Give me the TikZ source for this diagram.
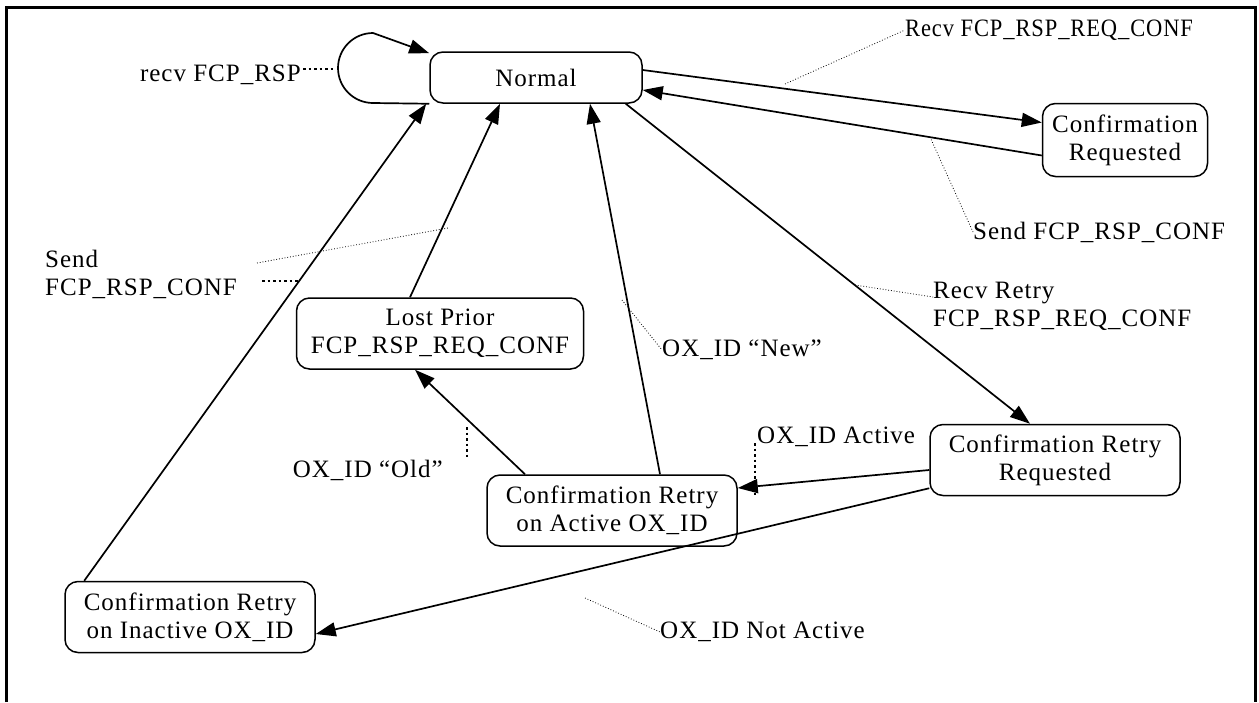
\documentclass[tikz,border=0pt]{standalone}
\usepackage{fontspec}
\setmainfont{Liberation Serif}[LetterSpace=4]
\usetikzlibrary{arrows.meta,calc}
\begin{document}
\begin{tikzpicture}[x=1pt,y=-1pt,
  every node/.style={font=\fontsize{25}{28}\selectfont, inner sep=0pt},
  state/.style={draw, line width=1.5pt, rounded corners=13pt, align=center},
  tr/.style={line width=1.7pt, -{Triangle[length=20pt,width=14pt]}},
  lead/.style={line width=0.8pt, dotted},
  leadthick/.style={line width=1.8pt, dash pattern=on 2.5pt off 3pt},
  lbl/.style={align=left}]
\useasboundingbox (0,0) rectangle (1259,702);
\draw[line width=3pt] (6,702) -- (6,7) -- (1255,7) -- (1255,702);

% states
\node[state, minimum width=212pt, minimum height=51pt] (normal) at (536,77.5) {Normal};
\node[state, minimum width=165pt, minimum height=73pt] (creq) at (1125,140) {Confirmation\\Requested};
\node[state, minimum width=287pt, minimum height=71pt] (lost) at (440,333.5) {Lost Prior\\FCP\_RSP\_REQ\_CONF};
\node[state, minimum width=250pt, minimum height=71pt] (cra) at (612,510.5) {Confirmation Retry\\on Active OX\_ID};
\node[state, minimum width=250pt, minimum height=71pt] (crr) at (1055,460) {Confirmation Retry\\Requested};
\node[state, minimum width=250pt, minimum height=71pt] (cri) at (190,617) {Confirmation Retry\\on Inactive OX\_ID};

% transitions
\draw[tr] ([yshift=7.5pt]normal.east) -- ([yshift=17.5pt]creq.west);
\draw[tr] ([yshift=-15.5pt]creq.west) -- ([yshift=-12.5pt]normal.east);
\draw[tr] ([xshift=-17pt]normal.south east) -- ([xshift=-25pt]crr.north);
\draw[tr] ([yshift=-10pt]crr.west) -- ([yshift=22.5pt]cra.east);
\draw[tr] ([yshift=8pt]crr.south west) -- ([yshift=-17pt]cri.east);
\draw[tr] ([xshift=48pt]cra.north) -- ([xshift=54pt]normal.south);
\draw[tr] ([xshift=-87pt]cra.north) -- ([xshift=-25pt]lost.south);
\draw[tr] ([xshift=-30pt]lost.north) -- ([xshift=-36pt]normal.south);
\draw[tr] ([xshift=20pt]cri.north west) -- ([xshift=-3pt]normal.south west);
\coordinate (lb) at (373,103);
\draw[tr] (normal.south west) -- (lb) arc[start angle=-90, end angle=-270, radius=35pt] -- ([yshift=-2pt]normal.north west);

% labels
\node[anchor=east] (l1) at (301,75) {recv FCP\_RSP};
\draw[leadthick] (303,69) -- (333,69);
\node[anchor=west, xscale=0.9, transform shape] (l2) at (905,30) {Recv FCP\_RSP\_REQ\_CONF};
\draw[lead] (785,84) -- (l2.west);
\node[anchor=west] (l3) at (973,232) {Send FCP\_RSP\_CONF};
\draw[lead] (930,137) -- (l3.west);
\node[anchor=north west, lbl] (l4) at (933,282) {Recv Retry\\FCP\_RSP\_REQ\_CONF};
\draw[lead] (855,285) -- (933,297);
\node[anchor=west] (l5) at (662,350) {OX\_ID “New”};
\draw[lead] (622,300) -- (l5.west);
\node[anchor=north west, lbl] (l6) at (45,250) {Send\\FCP\_RSP\_CONF};
\draw[lead] (257,263) -- (448,228);
\draw[leadthick] (262,281) -- (298,281);
\node[anchor=east] (l7) at (443,470) {OX\_ID “Old”};
\draw[leadthick] (467,427) -- (467,457);
\node[anchor=west] (l8) at (757,437) {OX\_ID Active};
\draw[leadthick] (755,443) -- (755,497);
\node[anchor=west] (l9) at (660,632) {OX\_ID Not Active};
\draw[lead] (585,598) -- (l9.west);
\end{tikzpicture}
\end{document}
